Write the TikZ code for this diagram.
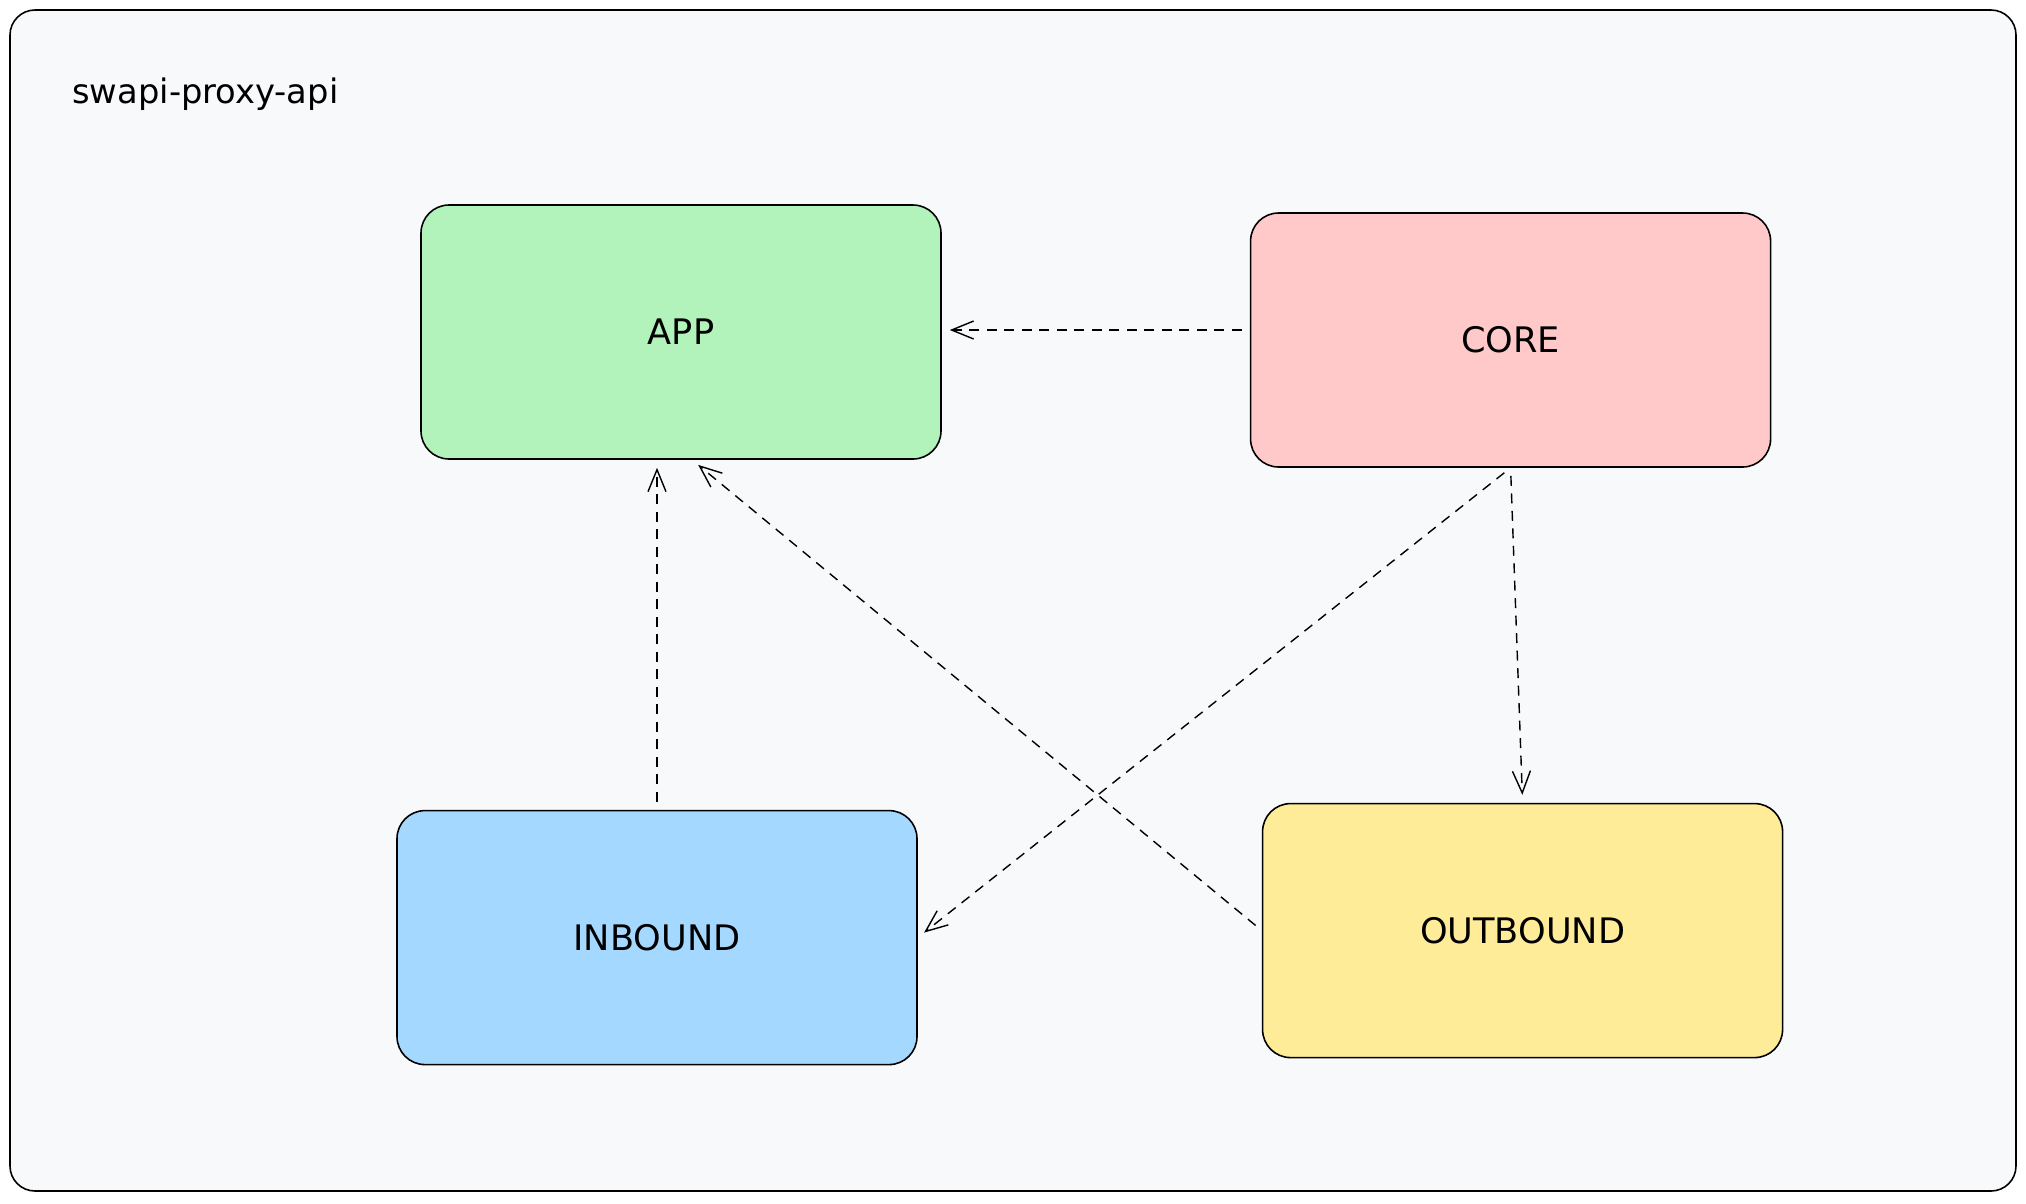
\documentclass[tikz,border=0pt]{standalone}
\usepackage{fontspec}
\setmainfont{DejaVu Sans}
\usetikzlibrary{positioning,arrows.meta}
\definecolor{appgreen}{HTML}{B2F2BB}
\definecolor{corered}{HTML}{FFC9C9}
\definecolor{inblue}{HTML}{A5D8FF}
\definecolor{outyellow}{HTML}{FFEC99}
\definecolor{canvas}{HTML}{F8F9FA}
\tikzset{layer node/.style={rectangle,rounded corners=0.28cm,draw,line width=0.45pt,minimum width=5.2cm,minimum height=2.54cm,inner sep=0pt,font=\fontsize{10}{12}\selectfont},
         dep/.style={draw,line width=0.4pt,dash pattern=on 0.1cm off 0.075cm,-{Straight Barb[length=0.22cm,width=0.18cm]},shorten <=0.08cm,shorten >=0.08cm},
            }

\begin{document}
\begin{tikzpicture}
    \useasboundingbox (0,0) rectangle (20.26,-12.03);
    \draw[fill=canvas,rounded corners=0.25cm,line width=0.45pt] (0.1,-0.1) rectangle (20.16,-11.91);
    \node[anchor=base west,font=\fontsize{9.6}{12}\selectfont] (title) at (0.6,-1.03) {swapi-proxy-api};

    \node[layer node,fill=appgreen] (app) at (6.81,-3.32) {APP};
    \node[layer node,fill=corered] (core) [right = 3.08cm of app,yshift=-0.08cm] {CORE};
    \node[layer node,fill=inblue] (inbound) [below = 3.5cm of app,xshift=-0.24cm] {INBOUND};
    \node[layer node,fill=outyellow] (outbound) [below = 3.35cm of core,xshift=0.12cm] {OUTBOUND};

    \path
    ([yshift=0.1cm]core.west) edge[dep] ([yshift=0.1cm]core.west -| app.east)
    (inbound.north) edge[dep] (inbound.north |- app.south)
    (outbound.west) edge[dep] ([xshift=0.11cm]app.south)
    (core.south) edge[dep] (inbound.east)
    (core.south) edge[dep] (outbound.north);

\end{tikzpicture}
\end{document}
